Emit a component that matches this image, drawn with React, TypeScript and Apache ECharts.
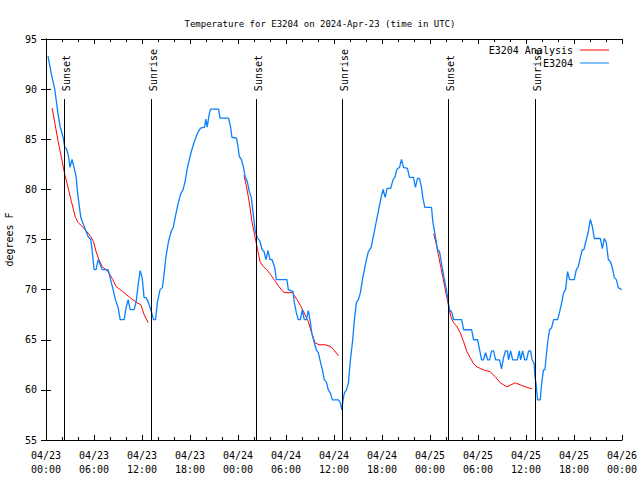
import React, { useEffect, useRef } from "react";
import * as echarts from "echarts";

// hours since 04/23 00:00 UTC
const stationHours = [
  0.25, 0.67, 1.09, 1.51, 1.76, 2.14, 2.34, 2.59, 2.84, 3.0, 3.25, 3.5, 3.76, 3.93, 4.18, 4.35, 4.67, 4.92, 5.26, 5.59,
  5.76, 6.01, 6.26, 6.52, 6.77, 7.02, 7.76, 8.01, 8.39, 8.68, 9.02, 9.27, 9.77, 10.01, 10.27, 10.52, 11.02, 11.27, 11.52, 11.77,
  12.02, 12.26, 12.51, 12.76, 13.1, 13.44, 13.69, 13.94, 14.26, 14.55, 14.75, 14.98, 15.31, 15.65, 15.9, 16.15, 16.49, 16.82, 17.14, 17.39,
  17.64, 17.98, 18.32, 18.65, 18.99, 19.32, 19.82, 19.98, 20.15, 20.4, 20.57, 21.58, 21.75, 22.82, 23.08, 23.24, 23.82, 23.99, 24.16, 24.41,
  24.66, 24.91, 25.16, 25.41, 25.66, 25.91, 26.16, 26.41, 26.75, 27.01, 27.25, 27.5, 27.75, 28.0, 28.25, 28.59, 28.79, 30.12, 30.29, 30.88,
  31.04, 31.29, 31.54, 31.79, 32.04, 32.28, 32.54, 32.79, 33.04, 33.21, 33.54, 33.79, 34.05, 34.3, 34.55, 34.79, 35.04, 35.29, 35.54, 35.8,
  36.55, 36.8, 36.97, 37.13, 37.3, 37.55, 37.8, 38.05, 38.3, 38.55, 38.8, 39.05, 39.3, 39.55, 39.8, 40.05, 40.3, 40.64, 40.89, 41.14,
  41.39, 41.64, 41.89, 42.14, 42.39, 42.64, 43.09, 43.39, 43.61, 43.86, 44.19, 44.44, 44.68, 45.18, 45.43, 45.93, 46.18, 46.44, 46.69, 46.94,
  47.1, 47.35, 48.19, 48.36, 48.52, 48.78, 48.94, 49.19, 49.36, 49.61, 49.86, 50.11, 50.28, 50.44, 50.69, 50.95, 51.95, 52.2, 53.2, 53.45,
  53.95, 54.2, 54.45, 54.69, 54.95, 55.2, 55.45, 55.7, 55.95, 56.2, 56.7, 56.94, 57.19, 57.44, 57.68, 57.82, 58.08, 58.33, 58.92, 59.17,
  59.33, 59.58, 59.83, 60.07, 60.33, 60.57, 60.77, 61.02, 61.09, 61.27, 61.44, 61.77, 61.94, 62.18, 62.36, 62.45, 62.7, 62.95, 63.2, 63.46,
  63.96, 64.21, 64.46, 64.71, 64.95, 65.2, 65.45, 66.03, 66.29, 66.54, 66.79, 67.04, 67.24, 67.54, 67.79, 68.04, 68.29, 68.54, 69.29, 69.54,
  69.79, 70.04, 70.29, 70.54, 70.79, 71.04, 71.29, 71.54, 71.94,
];
const stationTemps = [
  93.3, 91.5, 90.0, 87.5, 86.3, 85.2, 84.2, 84.0, 83.2, 82.2, 83.0, 82.2, 81.3, 79.8, 78.2, 77.2, 76.5, 76.0, 75.3, 75.0,
  74.0, 72.0, 72.0, 73.0, 72.5, 72.0, 72.0, 71.2, 70.0, 69.0, 68.2, 67.0, 67.0, 68.2, 69.0, 68.0, 68.0, 68.8, 70.5, 71.9,
  71.2, 69.2, 69.2, 68.8, 68.0, 67.0, 67.0, 68.8, 70.0, 70.2, 71.5, 73.2, 74.8, 75.8, 76.2, 77.2, 78.5, 79.5, 80.0, 80.8,
  82.0, 83.2, 84.2, 85.0, 85.7, 86.1, 86.2, 87.0, 86.2, 87.5, 88.0, 88.0, 87.1, 87.1, 86.2, 85.2, 85.1, 84.3, 83.3, 83.0,
  82.3, 81.2, 80.8, 79.8, 79.2, 77.5, 75.8, 75.2, 74.8, 74.0, 73.8, 73.0, 73.9, 73.0, 73.0, 72.2, 71.0, 71.0, 70.0, 69.8,
  68.7, 67.7, 67.0, 67.0, 68.0, 67.0, 67.0, 67.9, 66.8, 65.7, 64.7, 64.0, 63.7, 62.8, 62.0, 61.0, 60.8, 60.0, 59.7, 59.0,
  59.0, 58.7, 58.0, 59.0, 59.7, 60.0, 60.7, 63.0, 64.7, 67.0, 68.7, 69.0, 69.7, 71.0, 72.0, 73.0, 73.8, 74.2, 75.2, 76.2,
  77.2, 78.2, 79.2, 80.0, 79.2, 80.1, 80.1, 81.0, 81.2, 82.0, 82.2, 83.0, 82.2, 82.1, 81.2, 81.2, 80.2, 81.1, 81.1, 80.2,
  79.2, 78.2, 78.2, 76.7, 76.0, 74.8, 74.0, 73.8, 73.0, 71.8, 70.8, 69.7, 68.8, 68.0, 67.8, 67.0, 67.0, 66.0, 66.0, 65.0,
  65.0, 64.0, 63.0, 63.0, 63.7, 63.0, 63.0, 63.9, 63.9, 63.0, 63.0, 62.1, 63.2, 63.9, 63.9, 63.0, 63.9, 63.0, 63.0, 63.9,
  63.0, 63.9, 63.0, 63.0, 63.9, 63.9, 63.0, 62.6, 61.5, 60.5, 59.0, 59.0, 60.5, 62.0, 62.0, 62.7, 64.7, 66.0, 66.2, 67.0,
  67.0, 67.8, 68.7, 69.7, 70.0, 71.8, 71.0, 71.0, 72.0, 72.3, 73.2, 74.0, 74.0, 75.0, 75.8, 77.0, 76.3, 75.1, 75.1, 74.1,
  75.1, 74.7, 73.0, 72.8, 72.2, 71.2, 71.0, 70.2, 70.0,
];

const analysisHours1 = [0.76, 1.09, 1.51, 1.92, 2.34, 2.75, 3.17, 3.68, 4.01, 4.51, 5.09, 5.59, 5.93, 6.26, 6.6, 7.02, 7.76, 8.35, 8.77, 9.6, 10.52, 11.35, 11.86, 12.26, 12.77];
const analysisTemps1 = [88.1, 86.7, 84.8, 83.2, 81.5, 80.2, 78.8, 77.2, 76.7, 76.3, 75.8, 75.3, 74.8, 73.8, 73.0, 72.3, 71.8, 71.0, 70.3, 69.8, 69.2, 68.7, 68.5, 67.5, 66.7];
const analysisHours2 = [24.75, 25.0, 25.24, 25.49, 25.74, 25.99, 26.24, 26.5, 26.75, 27.16, 27.58, 28.08, 28.59, 29.13, 29.62, 29.87, 30.79, 31.38, 31.88, 32.38, 32.79, 33.21, 33.63, 34.13, 34.88, 35.63, 35.97, 36.57];
const analysisTemps2 = [81.4, 80.5, 79.5, 78.3, 76.8, 75.8, 74.8, 73.8, 72.8, 72.3, 72.0, 71.5, 70.9, 70.3, 69.8, 69.7, 69.7, 69.0, 68.3, 67.5, 66.8, 65.7, 64.7, 64.5, 64.5, 64.3, 64.0, 63.4];
const analysisHours3 = [48.47, 48.61, 48.86, 49.11, 49.36, 49.61, 49.86, 50.11, 50.36, 50.61, 50.86, 51.37, 51.78, 52.2, 52.62, 53.03, 53.45, 53.87, 54.37, 54.69, 55.53, 56.16, 56.79, 57.62, 58.12, 58.66, 59.29, 59.91, 60.75];
const analysisTemps3 = [75.6, 75.1, 74.3, 73.2, 72.2, 71.2, 70.2, 69.2, 68.2, 67.3, 66.8, 66.3, 65.7, 64.8, 63.8, 63.2, 62.6, 62.3, 62.1, 62.0, 61.8, 61.3, 60.7, 60.3, 60.5, 60.7, 60.5, 60.3, 60.1];

const sunEventHours = [2.25, 13.14, 26.25, 37.05, 50.31, 61.13];
const sunEventNames = ["Sunset", "Sunrise", "Sunset", "Sunrise", "Sunset", "Sunrise"];
const sunLineTop = 89;
const sunLabelBase = 89.8;

const xTickLabels = [
  "04/23\n00:00", "04/23\n06:00", "04/23\n12:00", "04/23\n18:00",
  "04/24\n00:00", "04/24\n06:00", "04/24\n12:00", "04/24\n18:00",
  "04/25\n00:00", "04/25\n06:00", "04/25\n12:00", "04/25\n18:00",
  "04/26\n00:00",
];

const FONT = "'DejaVu Sans Mono', 'Liberation Mono', monospace";
const RED = "#ff0000";
const BLUE = "#0a80ff";

const zip = (xs: number[], ys: number[]) => xs.map((x, i) => [x, ys[i]]);

export default function App() {
  const ref = useRef<HTMLDivElement>(null);
  useEffect(() => {
    if (!ref.current) return;
    const chart = echarts.init(ref.current, null, { renderer: "svg" });
    const xBase = {
      type: "value" as const,
      min: 0,
      max: 72,
      interval: 6,
      axisLine: { show: true, lineStyle: { color: "#000", width: 1 } },
      axisTick: { show: true, inside: true, length: 5, lineStyle: { color: "#000" } },
      minorTick: { show: true, splitNumber: 3, length: 3, lineStyle: { color: "#000" } },
      splitLine: { show: false },
    };
    const yBase = {
      type: "value" as const,
      min: 55,
      max: 95,
      interval: 5,
      axisLine: { show: true, lineStyle: { color: "#000", width: 1 } },
      axisTick: { show: true, inside: true, length: 5, lineStyle: { color: "#000" } },
      splitLine: { show: false },
    };
    const analysisSeries = [
      zip(analysisHours1, analysisTemps1),
      zip(analysisHours2, analysisTemps2),
      zip(analysisHours3, analysisTemps3),
    ].map((d) => ({
      name: "E3204 Analysis",
      type: "line" as const,
      data: d,
      showSymbol: false,
      symbol: "none",
      color: RED,
      lineStyle: { color: RED, width: 1 },
      z: 2,
    }));
    chart.setOption({
      animation: false,
      backgroundColor: "#fff",
      title: {
        text: "Temperature for E3204 on 2024-Apr-23 (time in UTC)",
        left: "center",
        top: 14,
        textStyle: { fontFamily: FONT, fontSize: 9, fontWeight: "normal", color: "#000" },
      },
      legend: {
        data: ["E3204 Analysis", "E3204"],
        orient: "vertical",
        align: "right",
        right: 26,
        top: 39,
        icon: "rect",
        itemWidth: 29,
        itemHeight: 1,
        itemGap: 1,
        selectedMode: false,
        textStyle: { fontFamily: FONT, fontSize: 10, color: "#000", lineHeight: 12, padding: [0, 2, 0, 0] },
      },
      grid: { left: 46, right: 18, top: 39, bottom: 40, containLabel: false, outerBoundsMode: "none" },
      xAxis: [
        {
          ...xBase,
          position: "bottom",
          axisLabel: {
            show: true,
            margin: 8,
            fontFamily: FONT,
            fontSize: 10,
            lineHeight: 14,
            color: "#000",
            formatter: (v: number) => xTickLabels[Math.round(v / 6)] ?? "",
          },
        },
        { ...xBase, position: "top", axisLabel: { show: false } },
      ],
      yAxis: [
        {
          ...yBase,
          position: "left",
          name: "degrees F",
          nameLocation: "middle",
          nameRotate: 90,
          nameGap: 28,
          nameTextStyle: { fontFamily: FONT, fontSize: 10, color: "#000" },
          axisLabel: { show: true, margin: 9, fontFamily: FONT, fontSize: 10, color: "#000" },
        },
        { ...yBase, position: "right", axisLabel: { show: false } },
      ],
      series: [
        ...analysisSeries,
        {
          name: "E3204",
          type: "line",
          data: zip(stationHours, stationTemps),
          showSymbol: false,
          symbol: "none",
          color: BLUE,
          lineStyle: { color: BLUE, width: 1.3 },
          z: 3,
          markLine: {
            silent: true,
            symbol: ["none", "none"],
            label: { show: false },
            lineStyle: { color: "#000", width: 1, type: "solid" },
            data: sunEventHours.map((h) => [{ coord: [h, 55] }, { coord: [h, sunLineTop] }]),
            z: 5,
          },
          markPoint: {
            silent: true,
            symbol: "circle",
            symbolSize: 0,
            label: {
              show: true,
              position: "inside",
              formatter: "{b}",
              rotate: 90,
              align: "left",
              verticalAlign: "middle",
              offset: [0, 2],
              fontFamily: FONT,
              fontSize: 10,
              color: "#000",
            },
            data: sunEventHours.map((h, i) => ({ name: sunEventNames[i], coord: [h, sunLabelBase] })),
          },
        },
      ],
    });
    return () => chart.dispose();
  }, []);
  return (
    <div
      ref={ref}
      style={{ position: "fixed", left: 0, top: 0, width: 640, height: 480, background: "#fff" }}
    />
  );
}
